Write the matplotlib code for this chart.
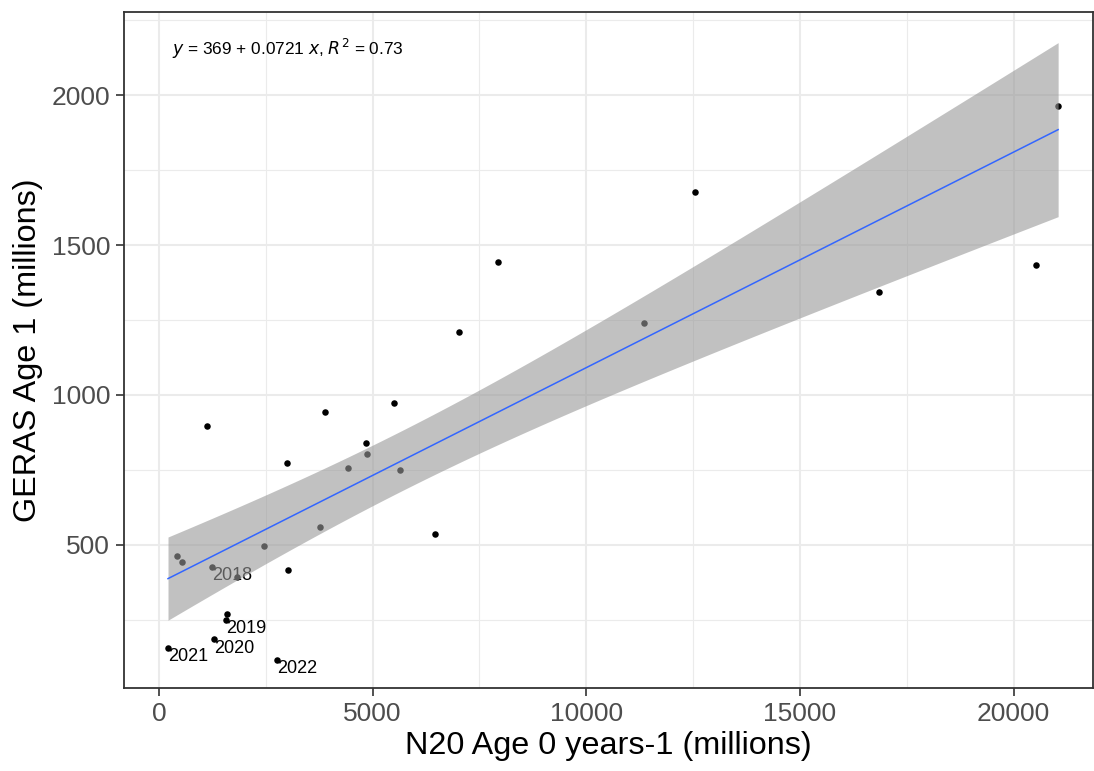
import numpy as np
import matplotlib
matplotlib.use("Agg")
import matplotlib.pyplot as plt
from matplotlib.ticker import MultipleLocator

plt.rcParams['font.family'] = ['Liberation Sans', 'DejaVu Sans']

# N20 Age 0 (x) and GERAS Age 1 (y), millions
n20_age0 = [211, 414, 531, 1124, 1233, 1295, 1600, 1561, 1833, 2466,
            2755, 3004, 3028, 3776, 3886, 4432, 4853, 4876, 5508, 5633,
            6468, 7022, 7935, 11350, 12547, 16854, 20520, 21044]
geras_age1 = [157, 464, 442, 898, 428, 186, 270, 250, 394, 496,
              117, 772, 417, 561, 944, 757, 841, 804, 972, 751,
              536, 1210, 1443, 1241, 1678, 1343, 1433, 1963]
year_labels = {0: "2021", 4: "2018", 5: "2020", 7: "2019", 10: "2022"}
equation = r"$y$ = 369 + 0.0721 $x$, $R^2$ = 0.73"
xticks = [0, 5000, 10000, 15000, 20000]
yticks = [500, 1000, 1500, 2000]

x = np.array(n20_age0, float)
y = np.array(geras_age1, float)
n = len(x)
b1, b0 = np.polyfit(x, y, 1)
resid = y - (b0 + b1 * x)
s = np.sqrt(np.sum(resid ** 2) / (n - 2))
xbar = x.mean()
sxx = np.sum((x - xbar) ** 2)
tval = 2.0555  # t(0.975, df=26)
xs = np.linspace(x.min(), x.max(), 80)
yfit = b0 + b1 * xs
se = s * np.sqrt(1 / n + (xs - xbar) ** 2 / sxx)

fig = plt.figure(figsize=(10.94, 7.71), dpi=100)
ax = fig.add_axes([124 / 1094, (771 - 688) / 771, (1093 - 124) / 1094, (688 - 12) / 771])

ax.scatter(x, y, s=22, color="black", zorder=3, linewidths=0)
for i, lab in year_labels.items():
    ax.annotate(lab, (x[i], y[i]), xytext=(0, -9), textcoords="offset pixels",
                ha="left", va="center", fontsize=13, color="black", zorder=3)
ax.fill_between(xs, yfit - tval * se, yfit + tval * se, color="#999999",
                alpha=0.6, linewidth=0, zorder=4)
ax.plot(xs, yfit, color="#3366FF", lw=1.1, zorder=5)

ax.text(0.05, 0.945, equation, transform=ax.transAxes, fontsize=12.4,
        ha="left", va="center", zorder=6)

ax.set_xlim(-819, 21860)
ax.set_ylim(23, 2277)
ax.set_xticks(xticks)
ax.set_yticks(yticks)
ax.xaxis.set_minor_locator(MultipleLocator(2500))
ax.yaxis.set_minor_locator(MultipleLocator(250))
ax.grid(which="major", color="#EBEBEB", lw=1.5, zorder=0)
ax.grid(which="minor", color="#EBEBEB", lw=0.8, zorder=0)
ax.set_axisbelow(True)
ax.tick_params(which="minor", length=0)
ax.tick_params(which="major", length=6, width=1.2, color="#333333",
               labelsize=19, labelcolor="#4D4D4D", pad=4)
for sp in ax.spines.values():
    sp.set_color("#333333")
    sp.set_linewidth(1.3)
ax.set_xlabel("N20 Age 0 years-1 (millions)", fontsize=23.3, labelpad=4)
ax.set_ylabel("GERAS Age 1 (millions)", fontsize=23.3, labelpad=6)

fig.savefig("out.png", dpi=100)
